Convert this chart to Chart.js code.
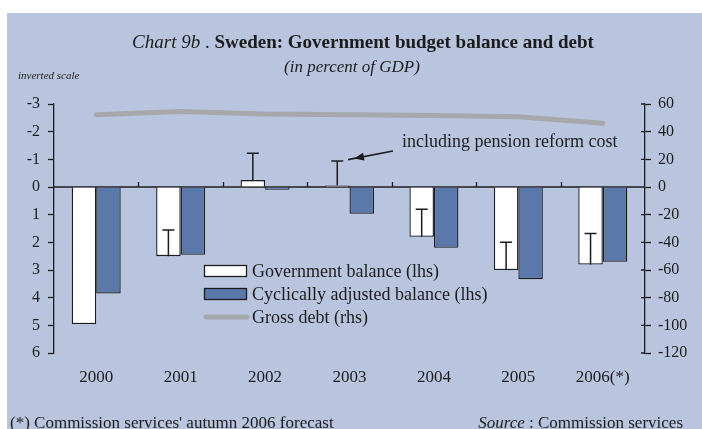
<!DOCTYPE html>
<html lang="en">
<head>
<meta charset="UTF-8">
<title>Sweden: Government budget balance and debt</title>
<script src="https://cdn.jsdelivr.net/npm/chart.js"></script>
<style>
  html, body { margin: 0; padding: 0; background: #fff; }
  #wrap { width: 702px; height: 429px; }
</style>
</head>
<body>
<div id="wrap"><canvas id="chart" width="702" height="429"></canvas></div>
<script>
// data (left axis is an inverted scale, % of GDP)
const years = ['2000', '2001', '2002', '2003', '2004', '2005', '2006(*)'];
const govBalance = [4.95, 2.5, -0.25, -0.05, 1.8, 3.0, 2.8];
const cycBalance = [3.85, 2.45, 0.1, 0.97, 2.2, 3.33, 2.7];
const inclPension = [null, 1.55, -1.22, -0.94, 0.8, 2.0, 1.68];
const grossDebt = [52.3, 54.6, 52.7, 52.2, 51.6, 50.8, 46.1];
const leftTicks = { min: -3, max: 6, step: 1 };
const rightTicks = { min: -120, max: 60, step: 20 };

const SERIF = "'Liberation Serif', 'DejaVu Serif', serif";
const INK = '#1c1c1c';
const PANEL = '#b9c4de';
const BLUE = '#5a78a9';
const GREY = '#a6a8ac';

const chartDecor = {
  id: 'chartDecor',
  beforeDraw(chart) {
    const c = chart.ctx;
    c.save();
    c.fillStyle = '#fff';
    c.fillRect(0, 0, chart.width, chart.height);
    c.fillStyle = PANEL;
    c.fillRect(7, 13, chart.width - 7, chart.height - 13);
    c.restore();
  },
  beforeDatasetsDraw(chart) {
    const c = chart.ctx;
    const x = chart.scales.x, y = chart.scales.y, y2 = chart.scales.y2;
    const area = chart.chartArea;
    const y0 = y.getPixelForValue(0);
    c.save();
    c.strokeStyle = INK;
    c.lineWidth = 1.3;
    // zero line with category ticks
    c.beginPath();
    c.moveTo(area.left, y0);
    c.lineTo(area.right, y0);
    const step = x.width / years.length;
    for (let i = 1; i < years.length; i++) {
      const px = Math.round(x.left + i * step) + 0.5;
      c.moveTo(px, y0);
      c.lineTo(px, y0 - 5);
    }
    // inner half of the right axis ticks
    y2.ticks.forEach((t, i) => {
      const py = y2.getPixelForTick(i);
      c.moveTo(area.right - 4, py);
      c.lineTo(area.right, py);
    });
    c.stroke();
    c.restore();
  },
  afterDatasetsDraw(chart) {
    // whiskers: balance including pension reform cost
    const c = chart.ctx;
    const y = chart.scales.y;
    const bars = chart.getDatasetMeta(0).data;
    c.save();
    c.strokeStyle = INK;
    c.lineWidth = 1.5;
    c.beginPath();
    inclPension.forEach((v, i) => {
      if (v === null) return;
      const bx = bars[i].x;
      const from = y.getPixelForValue(govBalance[i]);
      const to = y.getPixelForValue(v);
      c.moveTo(bx, from);
      c.lineTo(bx, to);
      c.moveTo(bx - 6, to);
      c.lineTo(bx + 6, to);
    });
    c.stroke();
    c.restore();
  },
  afterDraw(chart) {
    const c = chart.ctx;
    c.save();
    c.fillStyle = INK;
    c.textBaseline = 'alphabetic';

    // title
    const p1 = 'Chart 9b', p2 = ' . ', p3 = 'Sweden: Government budget balance and debt';
    const f1 = 'italic 19px ' + SERIF, f2 = '19px ' + SERIF, f3 = 'bold 19px ' + SERIF;
    c.font = f1; const w1 = c.measureText(p1).width;
    c.font = f2; const w2 = c.measureText(p2).width;
    c.font = f3; const w3 = c.measureText(p3).width;
    let tx = 363 - (w1 + w2 + w3) / 2;
    c.textAlign = 'left';
    c.font = f1; c.fillText(p1, tx, 48); tx += w1;
    c.font = f2; c.fillText(p2, tx, 48); tx += w2;
    c.font = f3; c.fillText(p3, tx, 48);

    c.textAlign = 'center';
    c.font = 'italic 17px ' + SERIF;
    c.fillText('(in percent of GDP)', 352, 72);

    c.textAlign = 'left';
    c.font = 'italic 11px ' + SERIF;
    c.fillText('inverted scale', 18, 79);

    // annotation
    c.font = '18px ' + SERIF;
    c.fillText('including pension reform cost', 402, 147);
    c.strokeStyle = INK;
    c.lineWidth = 1.6;
    const ax0 = 393, ay0 = 151, ax1 = 354, ay1 = 158.5;
    const ang = Math.atan2(ay1 - ay0, ax1 - ax0);
    c.beginPath();
    c.moveTo(ax0, ay0);
    c.lineTo(ax1 + 6 * Math.cos(ang), ay1 + 6 * Math.sin(ang));
    c.stroke();
    c.beginPath();
    c.moveTo(ax1, ay1);
    c.lineTo(ax1 - 10 * Math.cos(ang) + 4 * Math.sin(ang), ay1 - 10 * Math.sin(ang) - 4 * Math.cos(ang));
    c.lineTo(ax1 - 10 * Math.cos(ang) - 4 * Math.sin(ang), ay1 - 10 * Math.sin(ang) + 4 * Math.cos(ang));
    c.closePath();
    c.fill();

    // legend
    const ds = chart.data.datasets;
    const rows = [271, 294, 317];
    c.font = '18px ' + SERIF;
    c.textBaseline = 'middle';
    ds.forEach((d, i) => {
      const ry = rows[i];
      if (d.type === 'bar') {
        c.fillStyle = d.backgroundColor;
        c.fillRect(204.5, ry - 5.5, 42, 11);
        c.strokeStyle = INK;
        c.lineWidth = 1.3;
        c.strokeRect(204.5, ry - 5.5, 42, 11);
      } else {
        c.strokeStyle = d.borderColor;
        c.lineWidth = 5;
        c.lineCap = 'round';
        c.beginPath();
        c.moveTo(206, ry);
        c.lineTo(247, ry);
        c.stroke();
      }
      c.fillStyle = INK;
      c.fillText(d.label, 252, ry + 1);
    });

    // footnotes
    c.textBaseline = 'alphabetic';
    c.font = '17px ' + SERIF;
    c.fillText("(*) Commission services' autumn 2006 forecast", 10, 428);
    const s2 = ' : Commission services';
    c.font = '17px ' + SERIF;
    const ws2 = c.measureText(s2).width;
    c.font = 'italic 17px ' + SERIF;
    const ws1 = c.measureText('Source').width;
    const sx = 683 - ws1 - ws2;
    c.fillText('Source', sx, 428);
    c.font = '17px ' + SERIF;
    c.fillText(s2, sx + ws1, 428);
    c.restore();
  }
};

new Chart(document.getElementById('chart'), {
  data: {
    labels: years,
    datasets: [
      {
        type: 'bar', label: 'Government balance (lhs)', data: govBalance, yAxisID: 'y',
        backgroundColor: '#ffffff', borderColor: INK, borderWidth: 1.3,
        categoryPercentage: 0.58, barPercentage: 1, order: 2
      },
      {
        type: 'bar', label: 'Cyclically adjusted balance (lhs)', data: cycBalance, yAxisID: 'y',
        backgroundColor: BLUE, borderColor: INK, borderWidth: 1.3,
        categoryPercentage: 0.58, barPercentage: 1, order: 2
      },
      {
        type: 'line', label: 'Gross debt (rhs)', data: grossDebt, yAxisID: 'y2',
        borderColor: GREY, borderWidth: 5, pointRadius: 0, tension: 0,
        borderCapStyle: 'round', borderJoinStyle: 'round', order: 1
      }
    ]
  },
  options: {
    responsive: false,
    animation: false,
    layout: { padding: { top: 104, left: 0, right: 0, bottom: 0 } },
    plugins: { legend: { display: false }, tooltip: { enabled: false } },
    scales: {
      x: {
        offset: true,
        grid: { display: false, drawTicks: false },
        border: { display: false },
        ticks: { padding: 14, color: INK, font: { family: SERIF, size: 17 } },
        afterFit(s) { s.height = 76; }
      },
      y: {
        position: 'left', reverse: true,
        min: leftTicks.min, max: leftTicks.max,
        ticks: { stepSize: leftTicks.step, padding: 8, color: INK, font: { family: SERIF, size: 16 } },
        grid: { drawOnChartArea: false, tickLength: 6, tickColor: INK, tickWidth: 1.3 },
        border: { color: INK, width: 1.3 },
        afterFit(s) { s.width = 54; }
      },
      y2: {
        position: 'right',
        min: rightTicks.min, max: rightTicks.max,
        ticks: { stepSize: rightTicks.step, padding: 7, color: INK, font: { family: SERIF, size: 16 } },
        grid: { drawOnChartArea: false, tickLength: 6, tickColor: INK, tickWidth: 1.3 },
        border: { color: INK, width: 1.3 },
        afterFit(s) { s.width = 57; }
      }
    }
  },
  plugins: [chartDecor]
});
</script>
</body>
</html>
